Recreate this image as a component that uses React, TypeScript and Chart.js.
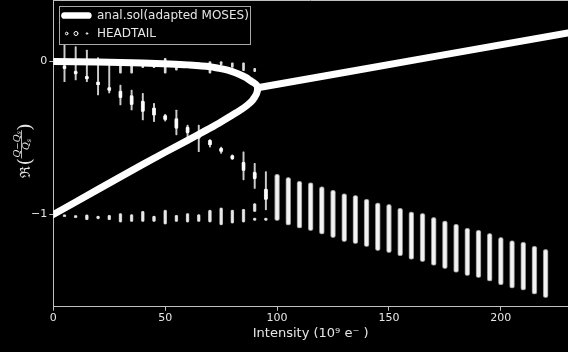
import React, { useEffect, useRef } from 'react';
import { Chart, registerables } from 'chart.js';

Chart.register(...registerables);

// ---- tick labels ----
const xTicks = [0, 50, 100, 150, 200];
const yTicks = [-1, 0];

// ---- analytic solution (adapted MOSES): below threshold, upper branch then lower branch (traced through the fold) ----
const upperX = [0, 20, 40, 52, 60, 70, 76, 80, 83, 86, 88, 89.5, 90.5, 91.1];
const upperY = [0, -0.004, -0.01, -0.016, -0.022, -0.034, -0.05, -0.066, -0.083, -0.104, -0.124, -0.138, -0.149, -0.16];
const foldX = [91.3];
const foldY = [-0.175];
const lowerX = [91.15, 90.7, 89.9, 88.9, 86.7, 83.9, 79.5, 74, 68, 60, 40, 20, 0];
const lowerY = [-0.195, -0.215, -0.235, -0.255, -0.285, -0.315, -0.355, -0.403, -0.452, -0.515, -0.672, -0.836, -1];
// above threshold
const postX = [91.3, 130, 170, 230];
const postY = [-0.172, -0.072, 0.032, 0.186];

// ---- HEADTAIL: coherent columns above threshold ----
const colX = [100, 105, 110, 115, 120, 125, 130, 135, 140, 145, 150, 155, 160, 165, 170, 175, 180, 185, 190, 195, 200, 205, 210, 215, 220];
const colLo = [-1.04, -1.069, -1.09, -1.106, -1.129, -1.152, -1.178, -1.191, -1.21, -1.237, -1.25, -1.271, -1.293, -1.309, -1.332, -1.354, -1.378, -1.4, -1.413, -1.435, -1.461, -1.482, -1.494, -1.52, -1.544];
const colHi = [-0.735, -0.757, -0.781, -0.792, -0.818, -0.84, -0.864, -0.875, -0.899, -0.923, -0.933, -0.958, -0.982, -0.992, -1.018, -1.041, -1.062, -1.088, -1.101, -1.123, -1.149, -1.171, -1.18, -1.206, -1.227];

// ---- HEADTAIL: bright blobs on the descending mode ----
const blobX = [5, 10, 15, 20, 25, 30, 35, 40, 45, 50, 55, 60, 65, 70, 75, 80, 85, 90, 95];
const blobLo = [-0.05, -0.085, -0.118, -0.156, -0.193, -0.24, -0.285, -0.33, -0.355, -0.383, -0.44, -0.47, -0.505, -0.548, -0.592, -0.64, -0.715, -0.77, -0.905];
const blobHi = [-0.025, -0.06, -0.093, -0.13, -0.167, -0.19, -0.22, -0.255, -0.3, -0.35, -0.37, -0.425, -0.475, -0.512, -0.564, -0.612, -0.655, -0.72, -0.83];

// ---- HEADTAIL: thin streaks ----
const streakX = [5, 10, 15, 20, 25, 30, 35, 40, 45, 50, 55, 60, 65, 70, 75, 80, 85, 90, 95];
const streakLo = [-0.132, -0.121, -0.132, -0.219, -0.206, -0.284, -0.317, -0.382, -0.393, -0.39, -0.48, -0.513, -0.59, -0.56, -0.6, -0.64, -0.774, -0.83, -0.97];
const streakHi = [0.108, 0.097, 0.075, 0.025, 0.01, -0.154, -0.186, -0.208, -0.273, -0.345, -0.317, -0.415, -0.415, -0.51, -0.56, -0.61, -0.59, -0.665, -0.72];

// ---- HEADTAIL: small dots near 0 ----
const dotX = [30, 35, 40, 45, 50, 55, 60, 65, 70, 75, 80, 85, 90];
const dotLo = [-0.077, -0.077, -0.04, -0.04, -0.077, -0.056, -0.023, -0.029, -0.077, -0.023, -0.038, -0.06, -0.067];
const dotHi = [-0.001, 0.01, -0.02, -0.01, 0.02, -0.001, -0.008, -0.008, -0.001, -0.001, -0.008, -0.008, -0.044];

// ---- HEADTAIL: clusters near -1 ----
const lowX = [5, 10, 15, 20, 25, 30, 35, 40, 45, 50, 55, 60, 65, 70, 75, 80, 85, 90, 90, 95];
const lowLo = [-1.016, -1.022, -1.036, -1.03, -1.036, -1.051, -1.047, -1.047, -1.047, -1.064, -1.047, -1.051, -1.047, -1.051, -1.069, -1.058, -1.051, -0.982, -1.04, -1.04];
const lowHi = [-1.0, -1.006, -1.0, -1.008, -1.003, -0.992, -0.999, -0.977, -1.008, -0.97, -1.003, -0.992, -0.999, -0.97, -0.955, -0.97, -0.964, -0.927, -1.022, -1.022];

const pts = (xs: number[], ys: number[]) => xs.map((x, i) => ({ x, y: ys[i] }));
const rng = (xs: number[], lo: number[], hi: number[]) => xs.map((x, i) => ({ x, y: [lo[i], hi[i]] }));

const FONT = '"DejaVu Sans", sans-serif';
const TXT = '#e6e6e6';
const SPINE = '#c0c0c0';

const bgPlugin = {
  id: 'bg',
  beforeDraw(chart: any) {
    const { ctx, width, height } = chart;
    ctx.save();
    ctx.fillStyle = '#000';
    ctx.fillRect(0, 0, width, height);
    ctx.restore();
  },
};

const overlayPlugin = {
  id: 'overlay',
  afterDraw(chart: any) {
    const { ctx, chartArea } = chart;
    ctx.save();
    // top spine
    ctx.strokeStyle = SPINE;
    ctx.lineWidth = 1;
    ctx.beginPath();
    ctx.moveTo(chartArea.left, chartArea.top + 0.5);
    ctx.lineTo(chartArea.right, chartArea.top + 0.5);
    ctx.stroke();

    // legend
    ctx.fillStyle = '#000';
    ctx.fillRect(59.5, 6.5, 191, 38);
    ctx.strokeStyle = '#a8a8a8';
    ctx.strokeRect(59.5, 6.5, 191, 38);
    ctx.strokeStyle = '#fff';
    ctx.lineWidth = 6.7;
    ctx.lineCap = 'round';
    ctx.beginPath();
    ctx.moveTo(64.5, 15.5);
    ctx.lineTo(88.3, 15.5);
    ctx.stroke();
    ctx.lineWidth = 1;
    const circ = [[66.7, 1.3], [76, 2], [87, 0.8]];
    circ.forEach(([cx, r]) => {
      ctx.beginPath();
      ctx.arc(cx, 33.5, r, 0, Math.PI * 2);
      ctx.stroke();
    });
    ctx.fillStyle = TXT;
    ctx.font = '12px ' + FONT;
    ctx.textBaseline = 'middle';
    ctx.textAlign = 'left';
    ctx.fillText('anal.sol(adapted MOSES)', 97, 15.5);
    ctx.fillText('HEADTAIL', 97, 33.5);

    // y-axis title: Re((Q - Qs)/Qs)
    ctx.translate(30, 178);
    ctx.rotate(-Math.PI / 2);
    ctx.textBaseline = 'alphabetic';
    ctx.fillStyle = TXT;
    ctx.font = '14px "DejaVu Serif", serif';
    ctx.fillText('ℜ', 0, 0);
    let x = ctx.measureText('ℜ').width + 0.5;
    const fp = '19px "DejaVu Serif", serif';
    ctx.font = fp;
    ctx.fillText('(', x, 1);
    x += ctx.measureText('(').width;
    const fi = 'italic 9.5px "DejaVu Serif", serif';
    const fr = '9px "DejaVu Serif", serif';
    const fs = 'italic 6.5px "DejaVu Serif", serif';
    ctx.font = fi; const wQ = ctx.measureText('Q').width;
    ctx.font = fr; const wM = ctx.measureText('−').width;
    ctx.font = fs; const wS = ctx.measureText('s').width;
    const numW = wQ + wM + wQ + wS;
    const denW = wQ + wS;
    const fw = Math.max(numW, denW) + 1;
    // numerator
    let nx = x + (fw - numW) / 2;
    ctx.font = fi; ctx.fillText('Q', nx, -10.5); nx += wQ;
    ctx.font = fr; ctx.fillText('−', nx, -10.5); nx += wM;
    ctx.font = fi; ctx.fillText('Q', nx, -10.5); nx += wQ;
    ctx.font = fs; ctx.fillText('s', nx, -9);
    // bar
    ctx.strokeStyle = TXT;
    ctx.lineWidth = 0.8;
    ctx.beginPath();
    ctx.moveTo(x, -8.5);
    ctx.lineTo(x + fw, -8.5);
    ctx.stroke();
    // denominator
    let dx = x + (fw - denW) / 2;
    ctx.font = fi; ctx.fillText('Q', dx, -1); dx += wQ;
    ctx.font = fs; ctx.fillText('s', dx, 0.5);
    x += fw;
    ctx.font = fp;
    ctx.fillText(')', x, 1);
    ctx.restore();
  },
};

const barDs = (data: any[], thickness: number, fill: string, border: string, bw: number, order: number) => ({
  type: 'bar' as const,
  data,
  backgroundColor: fill,
  borderColor: border,
  borderWidth: bw,
  borderRadius: thickness / 2 + 1,
  borderSkipped: false,
  barThickness: thickness,
  grouped: false,
  order,
});

const lineDs = (data: any[], tension: number) => ({
  type: 'line' as const,
  data,
  borderColor: '#ffffff',
  borderWidth: 7,
  pointRadius: 0,
  tension,
  fill: false,
  borderCapStyle: 'round',
  borderJoinStyle: 'round',
  order: 0,
});

export default function App() {
  const ref = useRef<HTMLCanvasElement>(null);
  useEffect(() => {
    document.body.style.margin = '0';
    document.body.style.background = '#000';
    const canvas = ref.current!;
    const branchData = [...pts(upperX, upperY), ...pts(foldX, foldY), ...pts(lowerX, lowerY)];
    const chart = new Chart(canvas, {
      type: 'scatter',
      data: {
        datasets: [
          lineDs(branchData, 0.3),
          lineDs(pts(postX, postY), 0),
          barDs(rng(blobX, blobLo, blobHi), 3.6, '#ffffff', '#bdbdbd', 0.6, 1),
          barDs(rng(colX, colLo, colHi), 5, '#f2f2f2', '#8a8a8a', 1, 2),
          barDs(rng(lowX, lowLo, lowHi), 3.2, '#e8e8e8', '#9a9a9a', 0.7, 3),
          barDs(rng(dotX, dotLo, dotHi), 2, '#dcdcdc', '#dcdcdc', 0, 4),
          barDs(rng(streakX, streakLo, streakHi), 1.3, 'rgba(225,225,225,0.9)', 'rgba(0,0,0,0)', 0, 5),
        ] as any,
      },
      options: {
        animation: false,
        responsive: false,
        devicePixelRatio: 1,
        layout: { padding: 0 },
        plugins: { legend: { display: false }, tooltip: { enabled: false } },
        scales: {
          x: {
            type: 'linear',
            min: 0,
            max: 230,
            offset: false,
            afterBuildTicks: (s: any) => { s.ticks = xTicks.map((v) => ({ value: v })); },
            afterFit: (s: any) => { s.height = 45.3; s.paddingLeft = 0; s.paddingRight = 0; },
            grid: { display: true, drawOnChartArea: false, drawTicks: true, tickLength: 4, color: SPINE, lineWidth: 1, offset: false },
            border: { display: true, color: SPINE, width: 1 },
            ticks: { color: TXT, font: { family: FONT, size: 11 }, padding: 1, maxRotation: 0, autoSkip: false },
            title: { display: true, text: 'Intensity (10⁹ e⁻ )', color: TXT, font: { family: FONT, size: 13 }, padding: { top: 0, bottom: 11 } },
          },
          y: {
            type: 'linear',
            min: -1.6026,
            max: 0.402,
            beginAtZero: false,
            afterBuildTicks: (s: any) => { s.ticks = yTicks.map((v) => ({ value: v })); },
            afterFit: (s: any) => { s.width = 53.3; s.paddingTop = 0; s.paddingBottom = 0; },
            grid: { display: true, drawOnChartArea: false, drawTicks: true, tickLength: 4, color: SPINE, lineWidth: 1 },
            border: { display: true, color: SPINE, width: 1 },
            ticks: {
              color: TXT,
              font: { family: FONT, size: 11 },
              padding: 2,
              callback: (v: any) => (v < 0 ? '−' + Math.abs(v) : String(v)),
            },
            title: { display: false },
          },
        },
      } as any,
      plugins: [bgPlugin, overlayPlugin],
    });
    return () => chart.destroy();
  }, []);
  return (
    <div style={{ position: 'absolute', left: 0, top: 0, width: 568, height: 352 }}>
      <canvas ref={ref} width={568} height={352} style={{ width: 568, height: 352, display: 'block' }} />
    </div>
  );
}
